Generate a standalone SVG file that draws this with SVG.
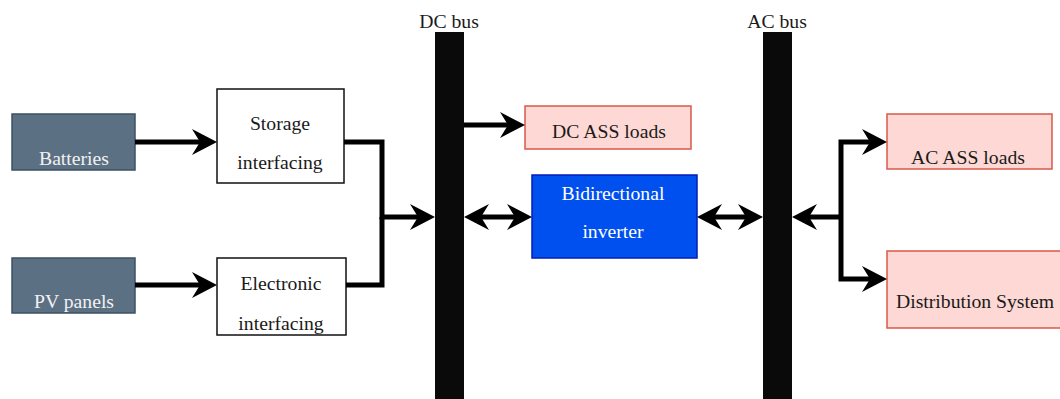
<svg xmlns="http://www.w3.org/2000/svg" width="1060" height="399" viewBox="0 0 1060 399">
  <style>
    text { font-family: "Liberation Serif", "Times New Roman", serif; font-size: 19.7px; text-anchor: middle; fill: #1a1a1a; }
    .src rect { fill: #5c7084; stroke: #3c5064; stroke-width: 1.5; }
    .src text { fill: #f2f2f2; }
    .iface rect { fill: #ffffff; stroke: #111111; stroke-width: 1.5; }
    .load rect { fill: #fdd8d4; stroke: #d65a4a; stroke-width: 1.5; }
    .inv rect { fill: #0050ef; stroke: #001dbc; stroke-width: 1.5; }
    .inv text { fill: #ffffff; }
    .bus rect { fill: #0a0a0a; }
    .wire { fill: none; stroke: #000000; stroke-width: 5; stroke-linejoin: miter; }
  </style>
  <defs>
    <marker id="arrow" viewBox="0 -13 25 26" refX="10" refY="0" markerWidth="25" markerHeight="26" markerUnits="userSpaceOnUse" orient="auto-start-reverse" overflow="visible">
      <path d="M0,-13 L25,0 L0,13 L8,0 Z" fill="#000000"/>
    </marker>
  </defs>

  <!-- buses -->
  <g id="dc-bus" class="bus">
    <rect x="435" y="32" width="29" height="370"/>
    <text x="449" y="28">DC bus</text>
  </g>
  <g id="ac-bus" class="bus">
    <rect x="763" y="32" width="29" height="370"/>
    <text x="777" y="28">AC bus</text>
  </g>

  <!-- sources -->
  <g id="batteries" class="src">
    <rect x="12" y="114" width="123" height="56"/>
    <text x="74" y="165">Batteries</text>
  </g>
  <g id="pv-panels" class="src">
    <rect x="12" y="258" width="123" height="55"/>
    <text x="74" y="308">PV panels</text>
  </g>

  <!-- interfacing stages -->
  <g id="storage-interfacing" class="iface">
    <rect x="217" y="89" width="127" height="94"/>
    <text x="280" y="130">Storage</text>
    <text x="280" y="169">interfacing</text>
  </g>
  <g id="electronic-interfacing" class="iface">
    <rect x="217" y="258" width="129" height="77"/>
    <text x="281" y="290">Electronic</text>
    <text x="281" y="330">interfacing</text>
  </g>

  <!-- loads and grid -->
  <g id="dc-ass-loads" class="load">
    <rect x="525" y="106" width="166" height="43"/>
    <text x="609" y="138">DC ASS loads</text>
  </g>
  <g id="ac-ass-loads" class="load">
    <rect x="887" y="114" width="165" height="55"/>
    <text x="968" y="164">AC ASS loads</text>
  </g>
  <g id="distribution-system" class="load">
    <rect x="887" y="251" width="180" height="77"/>
    <text x="975" y="308">Distribution System</text>
  </g>

  <!-- converter -->
  <g id="bidirectional-inverter" class="inv">
    <rect x="532" y="175" width="165" height="83"/>
    <text x="613" y="200">Bidirectional</text>
    <text x="613" y="238">inverter</text>
  </g>

  <!-- connectors -->
  <g id="connectors">
    <path class="wire" d="M135,142 H202" marker-end="url(#arrow)"/>
    <path class="wire" d="M135,285 H202" marker-end="url(#arrow)"/>
    <path class="wire" d="M344,142 H382 V217 H420" marker-end="url(#arrow)"/>
    <path class="wire" d="M346,285 H382 V217"/>
    <path class="wire" d="M464,125 H510" marker-end="url(#arrow)"/>
    <path class="wire" d="M479,217 H517" marker-start="url(#arrow)" marker-end="url(#arrow)"/>
    <path class="wire" d="M712,217 H748" marker-start="url(#arrow)" marker-end="url(#arrow)"/>
    <path class="wire" d="M841,217 H807" marker-end="url(#arrow)"/>
    <path class="wire" d="M841,217 V142 H872" marker-end="url(#arrow)"/>
    <path class="wire" d="M841,217 V279 H872" marker-end="url(#arrow)"/>
  </g>
</svg>
